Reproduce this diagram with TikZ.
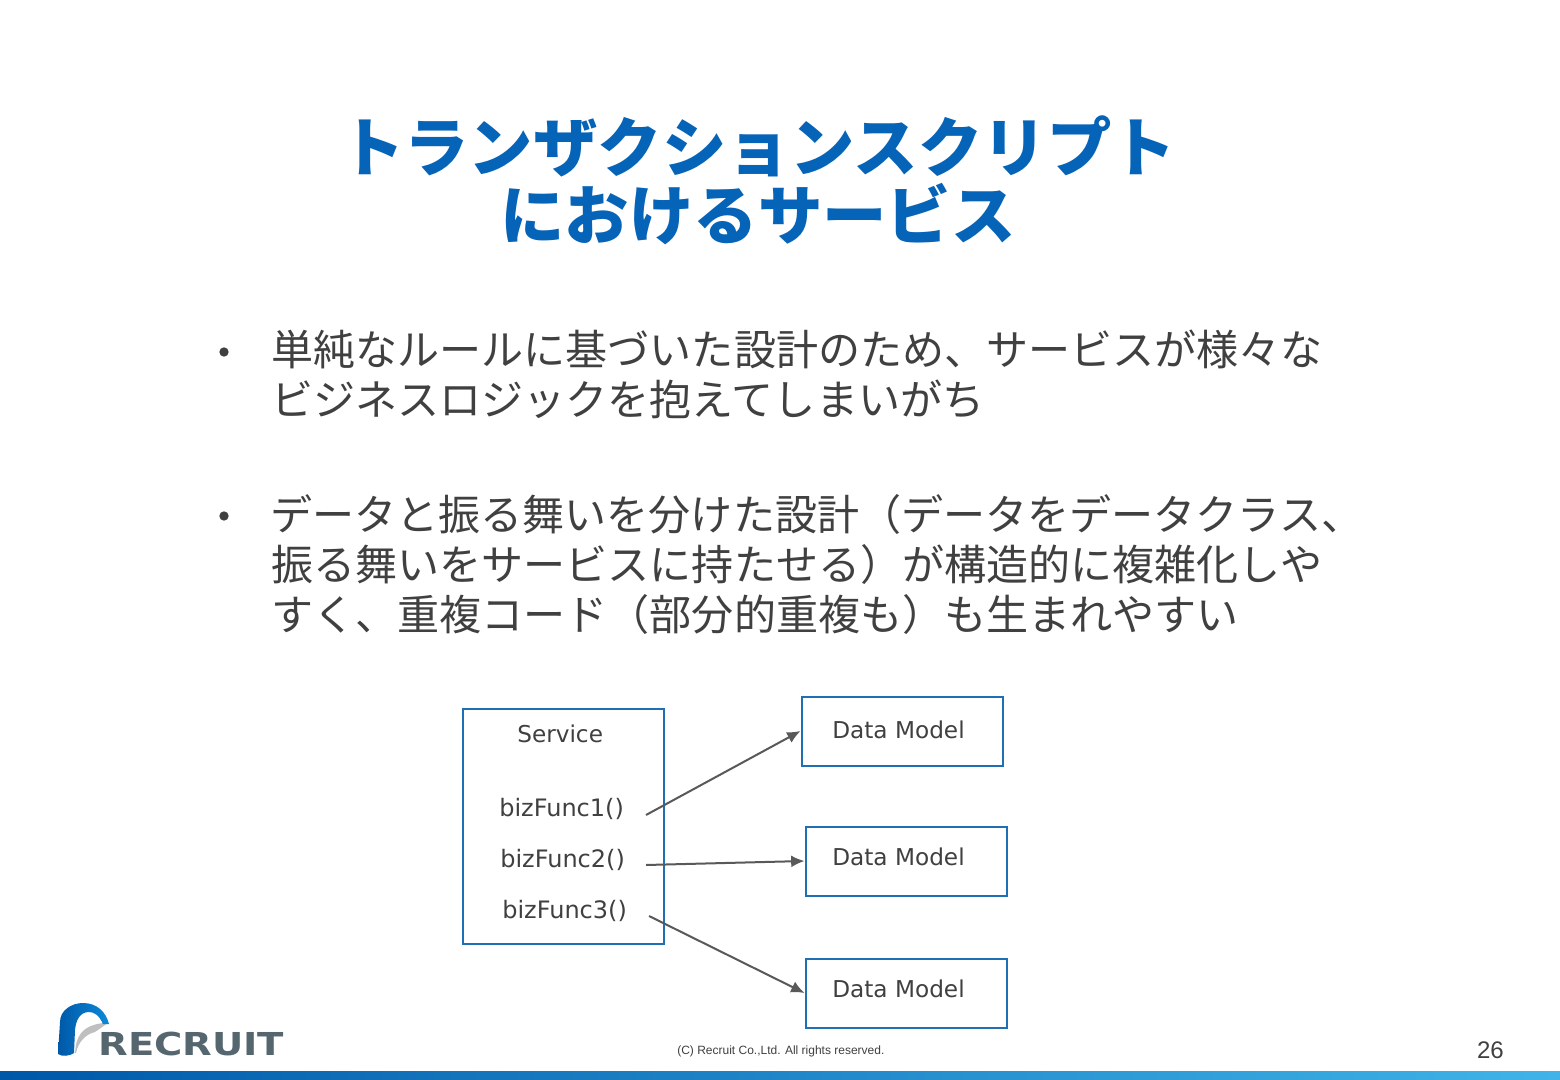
\documentclass[tikz,border=0pt]{standalone}
\usepackage{fontspec}
\setmainfont{DejaVu Sans}
\newfontfamily\cjk{Noto Sans CJK JP}
\newfontfamily\arialf{Liberation Sans}
\definecolor{titleblue}{HTML}{0563B8}
\definecolor{bodygray}{HTML}{404040}
\definecolor{boxblue}{HTML}{1F6FB5}
\definecolor{arrowgray}{HTML}{595959}
\definecolor{logogray}{HTML}{56666F}
\definecolor{logoleft}{HTML}{0058A8}
\definecolor{logoright}{HTML}{0A8AD8}
\definecolor{barleft}{HTML}{0058A8}
\definecolor{barmid}{HTML}{0078C8}
\definecolor{barright}{HTML}{40B4E8}
\usetikzlibrary{arrows.meta}
\tikzset{
  titleline/.style={anchor=base,inner sep=0pt,text=titleblue,font=\cjk\fontsize{48.3}{48.3}\selectfont\bfseries},
  bodyline/.style={anchor=base west,inner sep=0pt,text=bodygray,font=\cjk\fontsize{31.55}{31.55}\selectfont},
  bulletmark/.style={circle,fill=bodygray,inner sep=0pt,minimum size=7pt},
  umlbox/.style={draw=boxblue,line width=1.5pt,fill=white,inner sep=0pt,minimum width=150.75pt,minimum height=51.75pt},
  boxtext/.style={anchor=base west,inner sep=0pt,text=bodygray,font=\fontsize{18}{18}\selectfont},
  modeltext/.style={boxtext,font=\fontsize{17.4}{17.4}\selectfont},
  flow/.style={draw=arrowgray,line width=1.5pt,-{Latex[length=10pt,width=9pt]},shorten >=0pt},
}
\begin{document}
\begin{tikzpicture}[x=0.75pt,y=-0.75pt]
\useasboundingbox (0,0) rectangle (1560,1080);
\fill[white] (0,0) rectangle (1560,1080);
% title
\node[titleline] (t1) at (758,172) {トランザクションスクリプト};
\node[titleline] (t2) at (758,240) {におけるサービス};
% body
\node[bulletmark] (b1) at (224,352) {};
\node[bodyline] (l1) at (271,366) {単純なルールに基づいた設計のため、サービスが様々な};
\node[bodyline] (l2) at (271,416) {ビジネスロジックを抱えてしまいがち};
\node[bulletmark] (b2) at (224,516) {};
\node[bodyline] (l3) at (270,530) {データと振る舞いを分けた設計（データをデータクラス、};
\node[bodyline] (l4) at (271,580) {振る舞いをサービスに持たせる）が構造的に複雑化しや};
\node[bodyline] (l5) at (271,630) {すく、重複コード（部分的重複も）も生まれやすい};
% boxes
\node[umlbox,minimum height=176.25pt,anchor=north west] (svc) at (461.5,707.5) {};
\node[umlbox,anchor=north west] (dm1) at (800.5,695.5) {};
\node[umlbox,anchor=north west] (dm2) at (804.5,825.5) {};
\node[umlbox,anchor=north west] (dm3) at (804.5,957.5) {};
\node[modeltext] (s0) at (517,742) {Service};
\node[boxtext] (s1) at (499,816) {bizFunc1()};
\node[boxtext] (s2) at (500,867) {bizFunc2()};
\node[boxtext] (s3) at (502,918) {bizFunc3()};
\node[modeltext] (d1) at (832,738) {Data Model};
\node[modeltext] (d2) at (832,865) {Data Model};
\node[modeltext] (d3) at (832,997) {Data Model};
\coordinate (a1) at (646,815);
\coordinate (a2) at (646,865);
\coordinate (a3) at (649,916);
\draw[flow] (a1) -- (dm1.west);
\draw[flow] (a2) -- (dm2.west);
\draw[flow] (a3) -- (dm3.west);
% footer
\node[anchor=base west,inner sep=0pt,text=bodygray,font=\arialf\fontsize{9}{9}\selectfont] (copy) at (677,1054) {(C) Recruit Co.,Ltd. All rights reserved.};
\node[anchor=base east,inner sep=0pt,text=bodygray,font=\arialf\fontsize{18}{18}\selectfont] (pg) at (1504,1058) {26};
\shade[left color=barleft,middle color=barmid,right color=barright] (0,1071) rectangle (1560,1080);
% logo
\fill[black!25] (75,1053) .. controls (76,1038) and (80,1026) .. (103,1023) -- (108,1023) -- (95,1032) .. controls (86,1034) and (78,1042) .. (76,1053) -- cycle;
\shade[left color=logoleft,right color=logoright] (58,1054) -- (60,1022) .. controls (60,1010) and (72,1003) .. (83,1003) .. controls (97,1003) and (106,1012) .. (109,1024) -- (103,1024) .. controls (99,1015) and (94,1012) .. (89,1012) .. controls (80,1012) and (76,1020) .. (75,1030) -- (74,1053) .. controls (70,1056) and (62,1057) .. (58,1054) -- cycle;
\node[anchor=base west,inner sep=0pt,text=logogray,xscale=1.22,transform shape,font=\fontsize{23.7}{23.7}\selectfont\bfseries] (logo) at (98,1055) {RECRUIT};
\end{tikzpicture}
\end{document}
